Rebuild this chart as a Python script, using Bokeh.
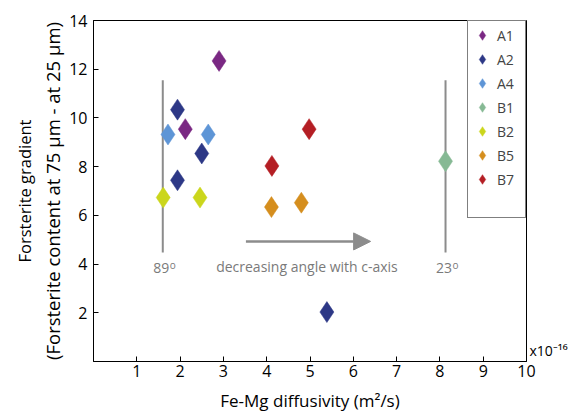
from bokeh.plotting import figure
from bokeh.models import (Range1d, FixedTicker, Label, Legend, LegendItem,
                          Arrow, NormalHead, ColumnDataSource, LinearAxis,
                          CustomJSTickFormatter)
from bokeh.embed import file_html
from bokeh.resources import INLINE

# ---- data ----
samples = ["A1", "A2", "A4", "B1", "B2", "B5", "B7"]
colors = ["#7A2883", "#2D3886", "#5E95D6", "#86B994", "#CBD61C", "#D58E1E", "#B41E24"]
diff_x = {
    "A1": [2.12, 2.90],
    "A2": [1.94, 1.94, 2.50, 5.39],
    "A4": [1.72, 2.65],
    "B1": [8.13],
    "B2": [1.61, 2.46],
    "B5": [4.11, 4.80],
    "B7": [4.12, 4.98],
}
grad_y = {
    "A1": [9.54, 12.34],
    "A2": [10.34, 7.44, 8.54, 2.03],
    "A4": [9.32, 9.32],
    "B1": [8.22],
    "B2": [6.73, 6.73],
    "B5": [6.34, 6.52],
    "B7": [8.03, 9.54],
}
x_ticks = [1, 2, 3, 4, 5, 6, 7, 8, 9, 10]
y_ticks = [2, 4, 6, 8, 10, 12, 14]
angle_lines_x = [1.6, 8.13]
angle_lines_y = [4.48, 11.55]
angle_labels = ["89", "23"]
arrow_x = [3.52, 6.4]
arrow_y = 4.93

FONT = "Open Sans"
GREY = "#8C8C8C"
TXT_GREY = "#7A7A7A"

p = figure(width=583, height=414, output_backend="svg", toolbar_location=None,
           x_range=Range1d(0, 10), y_range=Range1d(0, 14),
           min_border_left=93, min_border_right=57, min_border_top=20,
           min_border_bottom=53)
p.grid.visible = False
p.outline_line_color = "black"
p.outline_line_width = 1
p.background_fill_color = "white"
p.border_fill_color = "white"

for ax in (p.xaxis, p.yaxis):
    ax.major_tick_in = 5
    ax.major_tick_out = 0
    ax.minor_tick_in = 0
    ax.minor_tick_out = 0
    ax.minor_tick_line_color = None
    ax.axis_line_color = "black"
    ax.major_tick_line_color = "black"
    ax.major_label_text_font = FONT
    ax.major_label_text_font_size = "16px"
    ax.major_label_text_color = "black"
    ax.axis_label_text_font = FONT
    ax.axis_label_text_font_style = "normal"
    ax.axis_label_text_color = "black"
p.xaxis.ticker = FixedTicker(ticks=x_ticks)
p.yaxis.ticker = FixedTicker(ticks=y_ticks)
p.xaxis.major_label_standoff = 3
p.yaxis.major_label_standoff = 6
p.xaxis.axis_label = "Fe-Mg diffusivity (m²/s)"
p.xaxis.axis_label_text_font_size = "17px"
p.xaxis.axis_label_standoff = 9
p.yaxis.axis_label = "(Forsterite content at 75 µm - at 25 µm)"
p.yaxis.axis_label_text_font_size = "18.5px"
p.yaxis.axis_label_standoff = 1

# outer line of the y title
outer_y = LinearAxis(ticker=FixedTicker(ticks=[]), axis_line_color=None,
                     major_tick_line_color=None, minor_tick_line_color=None,
                     axis_label="Forsterite gradient", axis_label_standoff=2,
                     axis_label_text_font=FONT, axis_label_text_font_size="16.5px",
                     axis_label_text_font_style="normal", axis_label_text_color="black")
p.add_layout(outer_y, "left")

# scale factor note on the right
p.extra_y_ranges = {"sci": Range1d(0, 14)}
sci_axis = LinearAxis(y_range_name="sci", ticker=FixedTicker(ticks=[0.45]),
                      formatter=CustomJSTickFormatter(code="return 'x10\u207b\u00b9\u2076'"),
                      axis_line_color=None, major_tick_line_color=None,
                      major_tick_in=0, major_tick_out=0, minor_tick_in=0, minor_tick_out=0,
                      minor_tick_line_color=None, major_label_standoff=3,
                      major_label_text_font=FONT, major_label_text_font_size="14px",
                      major_label_text_color="black", major_label_orientation="horizontal")
p.add_layout(sci_axis, "right")

# angle reference lines
for xv in angle_lines_x:
    p.line([xv, xv], angle_lines_y, line_color=GREY, line_width=2)

# arrow
p.add_layout(Arrow(x_start=arrow_x[0], y_start=arrow_y, x_end=arrow_x[1], y_end=arrow_y,
                   line_color=GREY, line_width=2.5,
                   end=NormalHead(size=17, fill_color=GREY, line_color=GREY)))

# data
items = []
for s, c in zip(samples, colors):
    src = ColumnDataSource(dict(x=diff_x[s], y=grad_y[s]))
    r = p.scatter("x", "y", source=src, marker="diamond", size=21,
                  fill_color=c, line_color=c, line_width=0.5)
    items.append(LegendItem(label=s, renderers=[r]))
blank = p.scatter(x=[], y=[], marker="diamond", size=1, fill_alpha=0, line_alpha=0)
items.append(LegendItem(label=" ", renderers=[blank]))

legend = Legend(items=items, location="top_right", margin=0, padding=2, spacing=0,
                glyph_height=24, glyph_width=24, label_standoff=3, label_width=26,
                label_height=24,
                border_line_color="black", border_line_width=1,
                background_fill_color="white", background_fill_alpha=1,
                label_text_font=FONT, label_text_font_size="14px")
p.add_layout(legend)

# annotation texts
for xv, t in zip(angle_lines_x, angle_labels):
    p.add_layout(Label(x=xv + 0.15, y=3.82, text=t, text_font=FONT, text_font_size="14px",
                       text_color=TXT_GREY, text_align="right", text_baseline="alphabetic"))
    p.add_layout(Label(x=xv + 0.16, y=3.96, text="o", text_font=FONT, text_font_size="10px",
                       text_color=TXT_GREY, text_align="left", text_baseline="alphabetic"))
p.add_layout(Label(x=4.93, y=3.92, text="decreasing angle with c-axis", text_font=FONT,
                   text_font_size="14px", text_color=TXT_GREY, text_align="center",
                   text_baseline="alphabetic"))

open("out.html", "w").write(file_html(p, INLINE))
